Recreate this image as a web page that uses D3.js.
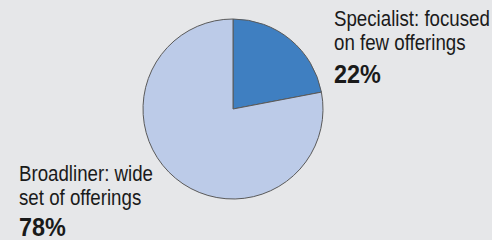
<!DOCTYPE html>
<html><head><meta charset="utf-8">
<script src="https://cdn.jsdelivr.net/npm/d3@7"></script>
<style>
html,body{margin:0;padding:0;background:#e6e7e9;}
svg{display:block;}
text{font-family:"Liberation Sans",Arial,sans-serif;fill:#1a1a1a;}
</style></head>
<body>
<svg id="c" width="492" height="240"></svg>
<script>
const categories = ["Specialist: focused on few offerings", "Broadliner: wide set of offerings"];
const labelLines = [["Specialist: focused", "on few offerings"], ["Broadliner: wide", "set of offerings"]];
const values = [22, 78];
const colors = ["#3f7fc1", "#bccbe8"];

const svg = d3.select("#c");
const cx = 233, cy = 109, r = 90;
const pie = d3.pie().sort(null).value(d => d);
const arc = d3.arc().innerRadius(0).outerRadius(r);
const g = svg.append("g").attr("transform", `translate(${cx},${cy})`);
g.selectAll("path").data(pie(values)).enter().append("path")
  .attr("d", arc)
  .attr("fill", (d, i) => colors[i])
  .attr("stroke", "#5a5a5a")
  .attr("stroke-width", 1);

function condensedText(x, y, str, size, sx, bold) {
  const t = svg.append("text")
    .attr("transform", `translate(${x},${y}) scale(${sx},1)`)
    .attr("font-size", size)
    .text(str);
  if (bold) t.attr("font-weight", "bold");
  return t;
}

const labelPos = [{x: 334, y: 26, pct: 83}, {x: 19, y: 181, pct: 236}];
labelPos.forEach((p, i) => {
  labelLines[i].forEach((ln, j) => condensedText(p.x, p.y + j * 24, ln, 22, 0.85, false));
  condensedText(p.x, p.pct, values[i] + "%", 26, 0.9, true);
});
</script>
</body></html>
